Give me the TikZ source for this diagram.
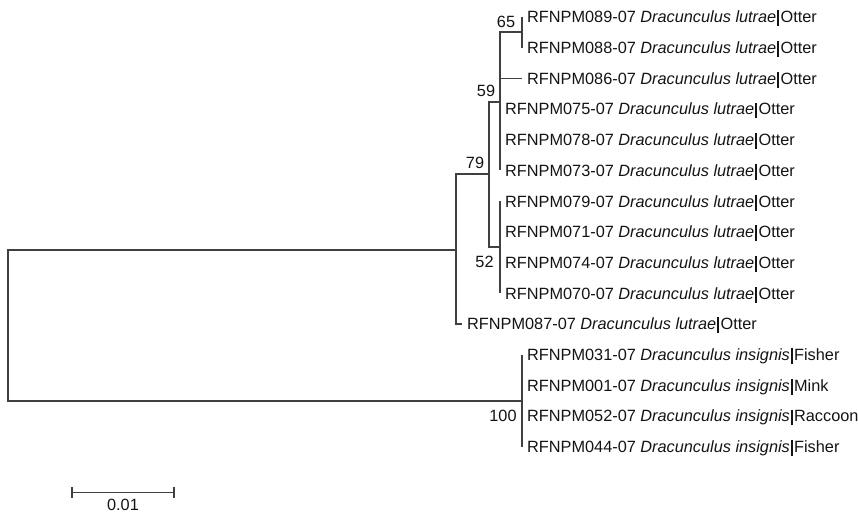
\documentclass[tikz,border=0pt]{standalone}
\usepackage{fontspec}
\setmainfont{Liberation Sans}
\definecolor{ln}{gray}{0.25}
\definecolor{tx}{gray}{0.08}
\newcommand{\sepbar}{\makebox[0.26em]{\rule[-0.22em]{2pt}{0.98em}}}
\newcommand{\lut}[1]{RFNPM#1-07 \textit{Dracunculus lutrae}\sepbar Otter}
\newcommand{\ins}[2]{RFNPM#1-07 \textit{Dracunculus insignis}\sepbar #2}
\begin{document}
\begin{tikzpicture}[x=1pt,y=-1pt,
  font=\fontsize{16.3}{19}\selectfont, text=tx,
  br/.style={draw=ln, line width=1.3pt},
  leaf/.style={anchor=base west, inner xsep=5pt, inner ysep=0pt, text height=11.7pt, text depth=0pt},
  bs/.style={anchor=base, inner sep=0pt}]
\useasboundingbox (0,0) rectangle (858,513);
% leaves
\node[leaf] (t089) at (522,22.8) {\lut{089}};
\node[leaf] (t088) at (522,53.5) {\lut{088}};
\node[leaf] (t086) at (522,84.2) {\lut{086}};
\node[leaf] (t075) at (500,114.9) {\lut{075}};
\node[leaf] (t078) at (500,145.6) {\lut{078}};
\node[leaf] (t073) at (500,176.3) {\lut{073}};
\node[leaf] (t079) at (500,207.0) {\lut{079}};
\node[leaf] (t071) at (500,237.7) {\lut{071}};
\node[leaf] (t074) at (500,268.4) {\lut{074}};
\node[leaf] (t070) at (500,299.1) {\lut{070}};
\node[leaf] (t087) at (462,329.8) {\lut{087}};
\node[leaf] (t031) at (522,360.5) {\ins{031}{Fisher}};
\node[leaf] (t001) at (522,391.2) {\ins{001}{Mink}};
\node[leaf] (t052) at (522,421.9) {\ins{052}{Raccoon}};
\node[leaf] (t044) at (522,452.6) {\ins{044}{Fisher}};
% internal nodes
\coordinate (root) at (8,326);
\coordinate (nA) at (456,250);
\coordinate (n79) at (489,174);
\coordinate (n59) at (500,102);
\coordinate (n65) at (522,32);
\coordinate (n52) at (500,247);
\coordinate (n100) at (522,401);
% branches
\draw[br] (nA) -| (root) |- (n100);
\draw[br] (n79) -| (nA) |- (t087.west);
\draw[br] (n59) -| (n79) |- (n52);
\draw[br] (n65) -| (n59) |- (t073.west);
\draw[br] (n59 |- t086.west) -- (t086.west);
\draw[br] (t089.west) -- (t088.west);
\draw[br] (t079.west) -- (t070.west);
\draw[br] (t031.west) -- (t044.west);
% bootstrap labels
\node[bs] (b65) at (506,27.3) {65};
\node[bs] (b59) at (486,96.7) {59};
\node[bs] (b79) at (475,168) {79};
\node[bs] (b52) at (484.5,267.5) {52};
\node[bs] (b100) at (503,421.7) {100};
% scale bar
\coordinate (sb1) at (72,492.3);
\coordinate (sb2) at (174,492.3);
\draw[br] (sb1) -- (sb2);
\draw[br] ([yshift=-5.3pt]sb1) -- ([yshift=5.3pt]sb1);
\draw[br] ([yshift=-5.3pt]sb2) -- ([yshift=5.3pt]sb2);
\node[bs] (sbl) at (123,510.5) {0.01};
\end{tikzpicture}
\end{document}
